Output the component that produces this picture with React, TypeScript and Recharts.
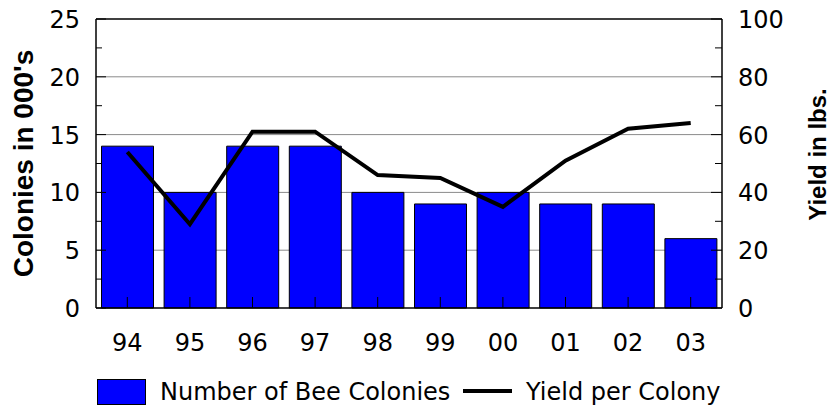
import React from 'react';
import { ComposedChart, Bar, Line, XAxis, YAxis, CartesianGrid, ReferenceLine, Legend } from 'recharts';

const years = ['94', '95', '96', '97', '98', '99', '00', '01', '02', '03'];
const colonies = [14, 10, 14, 14, 10, 9, 10, 9, 9, 6];
const yieldPerColony = [54, 29, 61, 61, 46, 45, 35, 51, 62, 64];
const leftTicks = [0, 2.5, 5, 7.5, 10, 12.5, 15, 17.5, 20, 22.5, 25];
const rightTicks = [0, 10, 20, 30, 40, 50, 60, 70, 80, 90, 100];
const gridValues = [5, 10, 15, 20];
const seriesNames = { bars: 'Number of Bee Colonies', line: 'Yield per Colony' };

const data = years.map((y, i) => ({ year: y, colonies: colonies[i], yield: yieldPerColony[i] }));

const FONT = "'DejaVu Sans', Verdana, sans-serif";
const BOLD = "'Liberation Sans', Arial, sans-serif";

const LeftTick = (props: any) => {
  const { x, y, payload } = props;
  const major = payload.value % 5 === 0;
  return (
    <g>
      <line x1={x} x2={x + (major ? 10 : 6)} y1={y} y2={y} stroke="#000" strokeWidth={1} />
      {major && (
        <text x={x - 16} y={y} dy={9} textAnchor="end" fontSize={24} fontFamily={FONT} fill="#000">
          {payload.value}
        </text>
      )}
    </g>
  );
};

const RightTick = (props: any) => {
  const { x, y, payload } = props;
  const major = payload.value % 20 === 0;
  return (
    <g>
      <line x1={x} x2={x - (major ? 11 : 7)} y1={y} y2={y} stroke="#000" strokeWidth={1} />
      {major && (
        <text x={x + 16} y={y} dy={9} textAnchor="start" fontSize={24} fontFamily={FONT} fill="#000">
          {payload.value}
        </text>
      )}
    </g>
  );
};

const BottomTick = (props: any) => {
  const { x, y, payload } = props;
  return (
    <g>
      <line x1={x} x2={x} y1={y} y2={y - 11} stroke="#000" strokeWidth={1} />
      <text x={x} y={y} dy={42.5} textAnchor="middle" fontSize={24} fontFamily={FONT} fill="#000">
        {payload.value}
      </text>
    </g>
  );
};

const LeftTitle = (props: any) => {
  const vb = props.viewBox;
  const cx = vb.x + 23;
  const cy = vb.y + vb.height / 2;
  return (
    <text x={cx} y={cy} transform={`rotate(-90 ${cx} ${cy})`} textAnchor="middle" dy={10} fontSize={28} fontWeight="bold" fontFamily={BOLD} fill="#000">
      Colonies in 000's
    </text>
  );
};

const RightTitle = (props: any) => {
  const vb = props.viewBox;
  const cx = vb.x + 95;
  const cy = vb.y + vb.height / 2 - 9;
  return (
    <text x={cx} y={cy} transform={`rotate(-90 ${cx} ${cy})`} textAnchor="middle" dy={9} fontSize={24} fontWeight="bold" fontFamily={BOLD} fill="#000">
      Yield in lbs.
    </text>
  );
};

const LegendContent = () => (
  <div style={{ position: 'relative', width: 830, height: 33, fontFamily: FONT, fontSize: 24, color: '#000' }}>
    <div style={{ position: 'absolute', left: 97, top: 3, width: 49, height: 26, background: '#0000FF', border: '1px solid #000', boxSizing: 'border-box' }} />
    <div style={{ position: 'absolute', left: 160, top: 1, lineHeight: '30px', whiteSpace: 'nowrap' }}>{seriesNames.bars}</div>
    <div style={{ position: 'absolute', left: 463, top: 13, width: 49, height: 4, background: '#000' }} />
    <div style={{ position: 'absolute', left: 526, top: 1, lineHeight: '30px', whiteSpace: 'nowrap' }}>{seriesNames.line}</div>
  </div>
);

export default function App() {
  return (
    <div style={{ position: 'absolute', left: 0, top: 0, width: 830, height: 409, background: '#fff' }}>
      <ComposedChart width={830} height={409} data={data} margin={{ top: 19, right: 0, bottom: 0, left: 0 }} barCategoryGap={5.5}>
        <CartesianGrid yAxisId="left" horizontal vertical={false} horizontalValues={gridValues} stroke="#8a8a8a" strokeWidth={1} />
        <XAxis dataKey="year" height={101} axisLine={{ stroke: '#000', strokeWidth: 1.5 }} tickLine={false} tickSize={0} tickMargin={0} tick={<BottomTick />} interval={0} />
        <YAxis yAxisId="left" orientation="left" width={96} domain={[0, 25]} ticks={leftTicks} interval={0} axisLine={{ stroke: '#000', strokeWidth: 1.5 }} tickLine={false} tickSize={0} tickMargin={0} tick={<LeftTick />} label={<LeftTitle />} />
        <YAxis yAxisId="right" orientation="right" width={108} domain={[0, 100]} ticks={rightTicks} interval={0} axisLine={{ stroke: '#000', strokeWidth: 1.5 }} tickLine={false} tickSize={0} tickMargin={0} tick={<RightTick />} label={<RightTitle />} />
        <ReferenceLine yAxisId="left" y={25} stroke="#000" strokeWidth={1.5} />
        <Bar yAxisId="left" dataKey="colonies" name={seriesNames.bars} fill="#0000FF" stroke="#000" strokeWidth={1} isAnimationActive={false} />
        <Line yAxisId="right" dataKey="yield" name={seriesNames.line} type="linear" stroke="#000" strokeWidth={4} dot={false} activeDot={false} isAnimationActive={false} />
        <Legend layout="horizontal" verticalAlign="middle" align="center" content={<LegendContent />} wrapperStyle={{ position: 'absolute', left: 0, top: 376, width: 830, height: 33 }} />
      </ComposedChart>
    </div>
  );
}
